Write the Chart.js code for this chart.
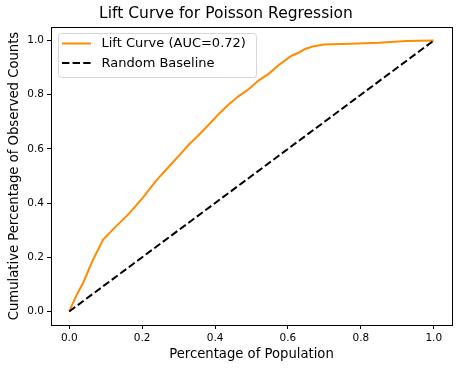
<!DOCTYPE html>
<html>
<head>
<meta charset="utf-8">
<script src="https://cdn.jsdelivr.net/npm/chart.js@4.4.1/dist/chart.umd.min.js"></script>
<style>
  html, body { margin: 0; padding: 0; background: #fff; }
  #wrap { width: 460px; height: 370px; }
</style>
</head>
<body>
<div id="wrap"><canvas id="lift" width="460" height="370"></canvas></div>
<script>
// values
const liftX = [0, 0.02, 0.038, 0.065, 0.093, 0.129, 0.166, 0.202, 0.238, 0.275, 0.311, 0.329, 0.347, 0.384, 0.411, 0.438, 0.465, 0.493, 0.52, 0.547, 0.575, 0.61, 0.629, 0.647, 0.668, 0.698, 0.77, 0.85, 0.925, 1.0];
const liftY = [0, 0.06, 0.105, 0.19, 0.265, 0.315, 0.364, 0.42, 0.482, 0.537, 0.59, 0.617, 0.64, 0.691, 0.73, 0.765, 0.795, 0.821, 0.853, 0.877, 0.91, 0.944, 0.955, 0.969, 0.978, 0.985, 0.988, 0.992, 0.998, 1.0];
const baseX = [0, 1];
const baseY = [0, 1];
const tickValues = [0, 0.2, 0.4, 0.6, 0.8, 1.0];

const seriesLabels = ["Lift Curve (AUC=0.72)", "Random Baseline"];
const FONT = "'DejaVu Sans', sans-serif";

function toPoints(xs, ys) {
  return xs.map((x, i) => ({ x, y: ys[i] }));
}

// matplotlib style box around the plot area
const framePlugin = {
  id: "frame",
  afterDatasetsDraw(chart) {
    const { ctx, chartArea: a } = chart;
    ctx.save();
    ctx.strokeStyle = "#000";
    ctx.lineWidth = 1;
    ctx.strokeRect(Math.round(a.left) + 0.5, Math.round(a.top) + 0.5, Math.round(a.right - a.left), Math.round(a.bottom - a.top));
    ctx.restore();
  },
};

// legend box in the upper left corner
const legendBoxPlugin = {
  id: "legendBox",
  afterDraw(chart) {
    const { ctx } = chart;
    const x0 = 58, y0 = 33, w = 198, h = 44, r = 3;
    ctx.save();
    ctx.beginPath();
    ctx.roundRect(x0 + 0.5, y0 + 0.5, w, h, r);
    ctx.fillStyle = "rgba(255,255,255,0.8)";
    ctx.fill();
    ctx.strokeStyle = "#d6d6d6";
    ctx.lineWidth = 1;
    ctx.stroke();

    chart.data.datasets.forEach((ds, i) => {
      const y = 43.5 + i * 19.5;
      ctx.beginPath();
      ctx.setLineDash(ds.borderDash || []);
      ctx.strokeStyle = ds.borderColor;
      ctx.lineWidth = ds.borderWidth;
      ctx.moveTo(62, y);
      ctx.lineTo(91, y);
      ctx.stroke();
      ctx.setLineDash([]);
      ctx.fillStyle = "#000";
      ctx.font = `13px ${FONT}`;
      ctx.textBaseline = "middle";
      ctx.fillText(ds.label, 101.5, y + 0.5);
    });
    ctx.restore();
  },
};

function axisOptions(title, isY) {
  return {
    type: "linear",
    min: -0.05,
    max: 1.05,
    afterBuildTicks: (scale) => {
      scale.ticks = tickValues.map((v) => ({ value: v }));
    },
    afterFit: (scale) => {
      if (isY) scale.width = 51;
      else scale.height = 45;
    },
    grid: { drawOnChartArea: false, drawTicks: true, tickLength: 4, color: "#000", tickWidth: 1 },
    border: { display: true, color: "#000", width: 1 },
    ticks: {
      color: "#000",
      padding: 3,
      maxRotation: 0,
      autoSkip: false,
      font: { family: FONT, size: 10.5 },
      callback: (v) => Number(v).toFixed(1),
    },
    title: {
      display: true,
      text: title,
      color: "#000",
      font: { family: FONT, size: 13.2 },
      padding: isY ? { top: 7, bottom: 0 } : { top: 0, bottom: 8 },
    },
  };
}

function main() {
  const ctx = document.getElementById("lift");
  new Chart(ctx, {
    type: "scatter",
    data: {
      datasets: [
        {
          label: seriesLabels[0],
          data: toPoints(liftX, liftY),
          showLine: true,
          borderColor: "#ff8c00",
          borderWidth: 2,
          pointRadius: 0,
          tension: 0,
          order: 1,
        },
        {
          label: seriesLabels[1],
          data: toPoints(baseX, baseY),
          showLine: true,
          borderColor: "#000",
          borderWidth: 2,
          borderDash: [7.4, 3.2],
          pointRadius: 0,
          order: 0,
        },
      ],
    },
    options: {
      responsive: false,
      animation: false,
      layout: { padding: { left: 0, right: 8, top: 0, bottom: 0 } },
      plugins: {
        legend: { display: false },
        tooltip: { enabled: false },
        title: {
          display: true,
          text: "Lift Curve for Poisson Regression",
          color: "#000",
          font: { family: FONT, size: 15.5, weight: "normal" },
          padding: { top: 5, bottom: 3.4 },
        },
      },
      scales: {
        x: axisOptions("Percentage of Population", false),
        y: axisOptions("Cumulative Percentage of Observed Counts", true),
      },
    },
    plugins: [framePlugin, legendBoxPlugin],
  });
}

document.addEventListener("DOMContentLoaded", main);
</script>
</body>
</html>
